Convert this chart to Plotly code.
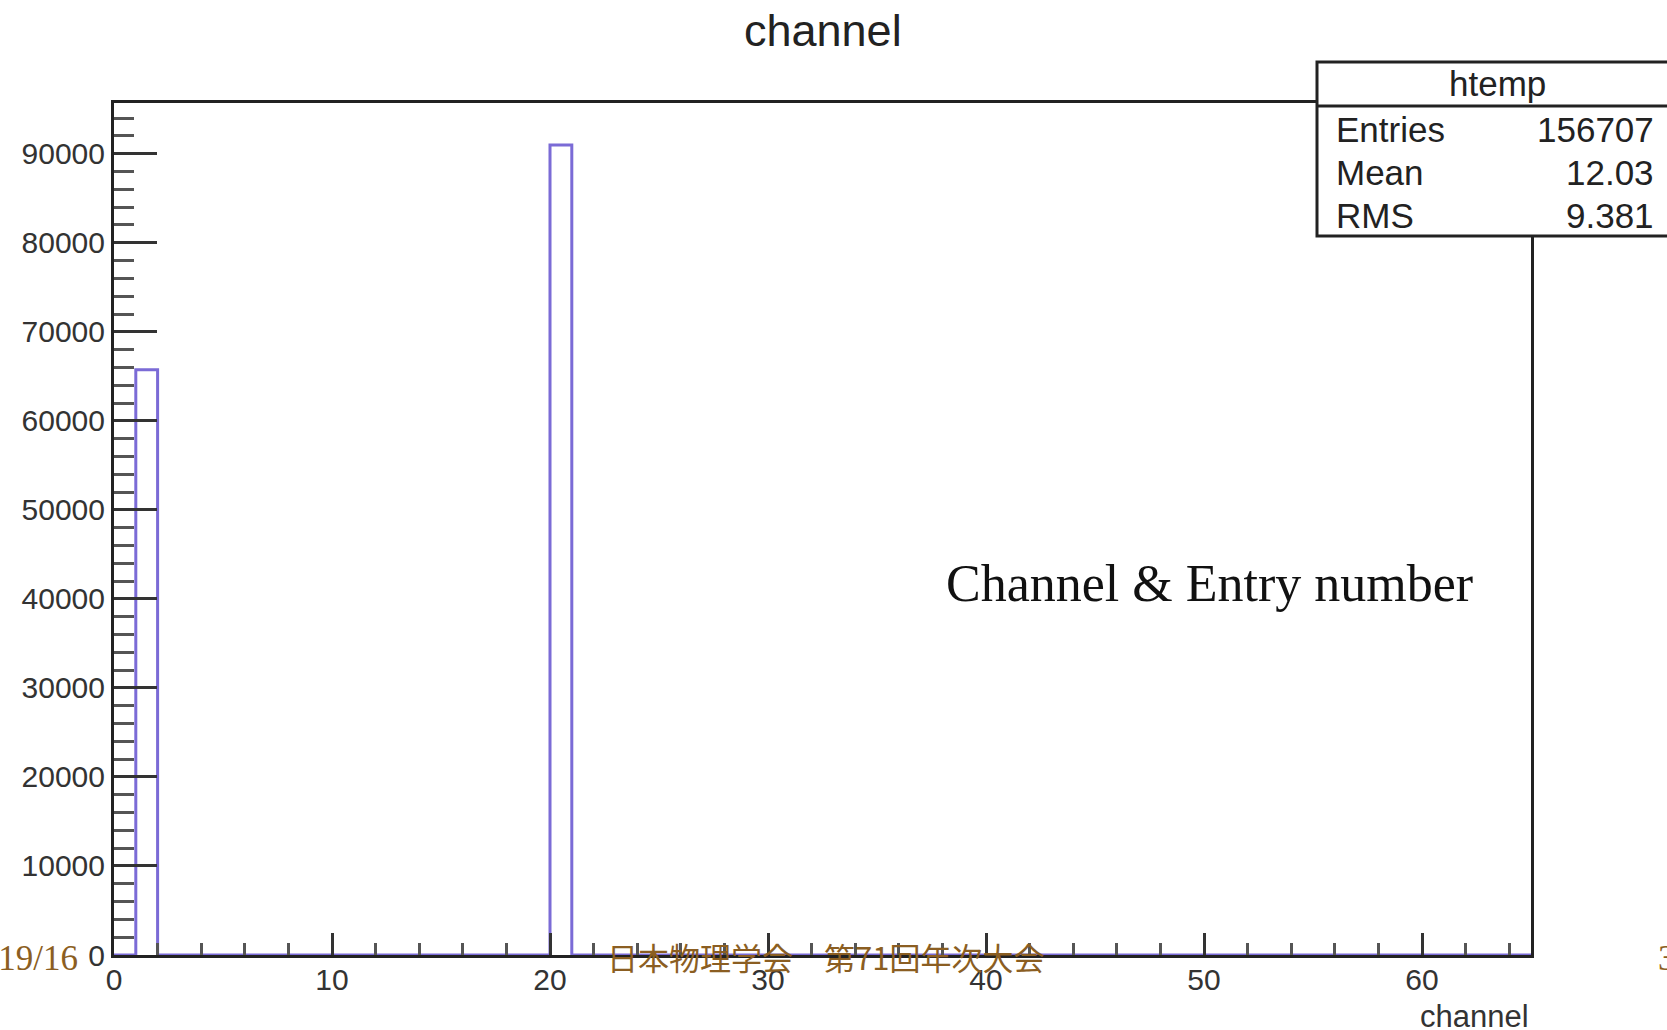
import plotly.graph_objects as go

# ---------------- data ----------------
n_bins = 65                      # histogram bins of width 1 over [0, 65)
filled_channels = [1, 20]        # channels with entries
filled_counts = [65734, 90973]   # entries per filled channel
stat_labels = ["Entries", "Mean", "RMS"]
stat_values = ["156707", "12.03", "9.381"]
hist_name = "htemp"
plot_title = "channel"
x_title = "channel"
overlay_text = "Channel & Entry number"
footer_left = "3/19/16"
footer_mid = "日本物理学会　第71回年次大会"
footer_right = "3"

# build full histogram from named data
counts = [0] * n_bins
for ch, c in zip(filled_channels, filled_counts):
    counts[ch] = c
edges = list(range(n_bins + 1))
step_x = edges
step_y = counts + [counts[-1]]

# ---------------- layout geometry (pixels) ----------------
W, H = 1667, 1030
L, R, T, B = 114, 1531, 103, 955


def px(x):
    return (x - L) / (R - L)


def py(y):
    return (B - y) / (B - T)


fig = go.Figure()
fig.add_trace(go.Scatter(
    x=step_x, y=step_y, mode="lines", line_shape="hv",
    line=dict(color="#7B6BD6", width=3), hoverinfo="skip", showlegend=False,
))

axis_font = dict(family="Liberation Sans, Arial, sans-serif", size=30, color="#333333")

fig.update_xaxes(
    range=[0, 65], dtick=10, tick0=0, ticks="inside", ticklen=22, tickwidth=3,
    tickcolor="#333333", showline=True, linewidth=3, linecolor="#222222",
    mirror=True, showgrid=False, zeroline=False, tickfont=axis_font,
    ticklabelstandoff=-4,
    minor=dict(dtick=2, ticks="inside", ticklen=12, tickwidth=3, tickcolor="#555555", showgrid=False),
)
fig.update_yaxes(
    range=[0, 95700], dtick=10000, tick0=0, ticks="inside", ticklen=43, tickwidth=3,
    tickcolor="#333333", showline=True, linewidth=3, linecolor="#222222",
    mirror=True, showgrid=False, zeroline=False, tickfont=axis_font,
    tickformat="d", ticklabelstandoff=0,
    minor=dict(dtick=2000, ticks="inside", ticklen=20, tickwidth=3, tickcolor="#555555", showgrid=False),
)

shapes = []
# stats box
bx0, bx1, by0, by1, bsep = 1317, 1700, 62, 236, 106
shapes.append(dict(type="rect", xref="paper", yref="paper",
                   x0=px(bx0), x1=px(bx1), y0=py(by1), y1=py(by0),
                   fillcolor="white", line=dict(color="#222222", width=3), layer="above"))
shapes.append(dict(type="line", xref="paper", yref="paper",
                   x0=px(bx0), x1=px(bx1), y0=py(bsep), y1=py(bsep),
                   line=dict(color="#222222", width=3), layer="above"))

annotations = []
stat_font = dict(family="Liberation Sans, Arial, sans-serif", size=35, color="#222222")
annotations.append(dict(text=hist_name, x=px(1497), y=py(83), xref="paper", yref="paper",
                        xanchor="center", yanchor="middle", showarrow=False, font=stat_font))
for lab, val, yy in zip(stat_labels, stat_values, [130, 173, 216]):
    annotations.append(dict(text=lab, x=px(1334), y=py(yy), xref="paper", yref="paper",
                            xanchor="left", yanchor="middle", showarrow=False, font=stat_font))
    annotations.append(dict(text=val, x=px(1656), y=py(yy), xref="paper", yref="paper",
                            xanchor="right", yanchor="middle", showarrow=False, font=stat_font))

# titles
annotations.append(dict(text=plot_title, x=0.5, y=py(31), xref="paper", yref="paper",
                        xanchor="center", yanchor="middle", showarrow=False,
                        font=dict(family="Liberation Sans, Arial, sans-serif", size=45, color="#222222")))
annotations.append(dict(text=x_title, x=px(1531), y=py(1016), xref="paper", yref="paper",
                        xanchor="right", yanchor="middle", showarrow=False,
                        font=dict(family="Liberation Sans, Arial, sans-serif", size=31, color="#333333")))

# overlay text
annotations.append(dict(text=overlay_text, x=px(1209), y=py(583), xref="paper", yref="paper",
                        xanchor="center", yanchor="middle", showarrow=False,
                        font=dict(family="Liberation Serif, Times New Roman, serif", size=52, color="#111111")))

# footers
brown = "#8B5E22"
annotations.append(dict(text=footer_left, x=px(80), y=py(958), xref="paper", yref="paper",
                        xanchor="right", yanchor="middle", showarrow=False,
                        font=dict(family="Liberation Serif, serif", size=35, color=brown)))
annotations.append(dict(text=footer_mid, x=px(825), y=py(957), xref="paper", yref="paper",
                        xanchor="center", yanchor="middle", showarrow=False,
                        font=dict(family="Noto Sans CJK JP, sans-serif", size=31, color=brown)))
annotations.append(dict(text=footer_right, x=px(1656), y=py(958), xref="paper", yref="paper",
                        xanchor="left", yanchor="middle", showarrow=False,
                        font=dict(family="Liberation Serif, serif", size=35, color=brown)))

fig.update_layout(
    width=W, height=H, autosize=False,
    margin=dict(l=L, r=W - R, t=T, b=H - B, pad=0),
    paper_bgcolor="white", plot_bgcolor="white",
    shapes=shapes, annotations=annotations, showlegend=False,
)

fig.write_html("out.html", config={"displayModeBar": False})
